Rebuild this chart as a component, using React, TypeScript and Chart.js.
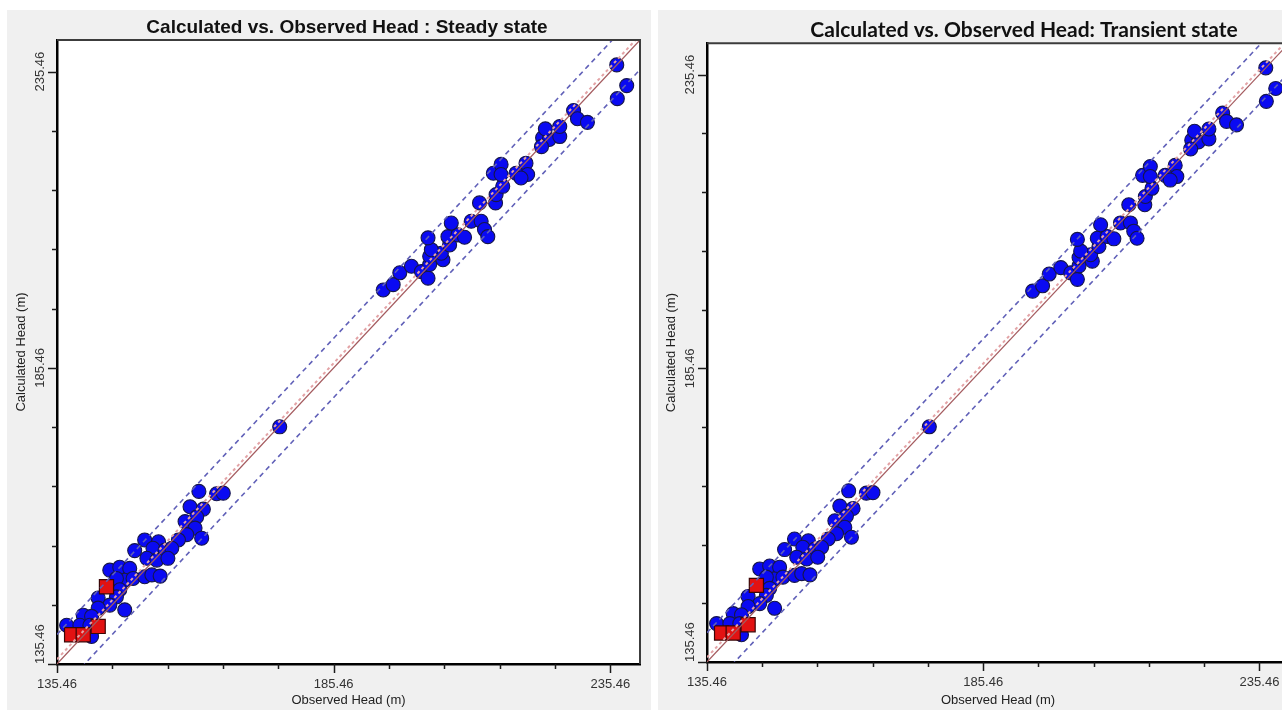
import { useEffect, useRef } from 'react';
import { Chart, registerables } from 'chart.js';

Chart.register(...registerables);

// ---- axis definition ----
const AXIS_MIN = 135.46;
const AXIS_MAX = 240.8;
const TICK_VALUES = [135.46, 145.46, 155.46, 165.46, 175.46, 185.46, 195.46, 205.46, 215.46, 225.46, 235.46];
const LABELED_TICKS = [135.46, 185.46, 235.46];

// ---- reference lines (offsets from the 1:1 line, in m) ----
const INTERVAL_OFFSET = 5;
const CONFIDENCE_OFFSET = 0.8;

// ---- observation wells (same in both panels) ----
const OBSERVED = [
  161.1, 164.3, 165.5, 159.5, 161.9, 160.7, 158.6, 160.4, 161.6, 158.9,
  157.4, 151.3, 153.8, 149.5, 152.8, 155.0, 156.2, 151.7, 153.5, 155.5,
  145.0, 146.8, 148.6, 147.7, 146.2, 149.2, 151.3, 152.6, 154.1, 146.8,
  146.2, 142.9, 145.0, 147.7, 142.9, 140.2, 141.7, 137.2, 139.6, 141.4,
  141.7,
  175.7,
  194.4, 196.2, 197.4, 199.5, 201.3, 202.5, 202.8, 205.2, 202.8, 204.9,
  203.1, 206.4, 202.5, 206.1, 207.9, 209.1, 206.7, 210.3, 212.1, 212.7,
  213.3, 211.8, 214.7, 214.8, 216.0, 214.3, 215.7, 215.7, 218.4, 220.2,
  220.5, 219.3, 223.2, 224.4, 226.3, 223.0, 223.7, 226.3, 228.8, 229.5,
  231.3, 236.6, 238.4, 236.7,
];
const CALCULATED = [
  164.6, 164.2, 164.3, 162.0, 161.6, 160.3, 159.5, 158.4, 156.7, 157.3,
  156.4, 156.4, 156.1, 154.6, 155.0, 154.7, 155.0, 153.3, 153.0, 153.3,
  151.3, 151.8, 151.6, 149.6, 149.9, 149.9, 150.2, 150.5, 150.3, 148.0,
  146.8, 146.6, 145.4, 144.6, 144.9, 143.7, 143.5, 142.0, 142.0, 142.0,
  140.1,
  175.5,
  198.6, 199.5, 201.5, 202.6, 201.7, 200.6, 202.9, 203.7, 204.3, 204.8,
  205.4, 206.2, 207.4, 207.6, 207.9, 207.5, 209.9, 210.2, 210.2, 208.8,
  207.6, 213.3, 213.3, 214.7, 216.1, 218.3, 219.8, 218.1, 218.3, 220.0,
  218.1, 217.5, 224.3, 224.0, 224.5, 222.8, 225.8, 226.2, 228.9, 227.5,
  226.9, 236.6, 233.1, 230.9,
];
const FLAGGED_OBSERVED = [144.4, 142.9, 138.1, 140.2];
const FLAGGED_CALCULATED = [148.5, 141.8, 140.4, 140.4];

const TICK_FONT = '13px "Liberation Sans", Arial, sans-serif';

const framePlugin = {
  id: 'frameTicks',
  beforeDraw(chart: any) {
    const { ctx, chartArea: a } = chart;
    ctx.save();
    ctx.fillStyle = '#ffffff';
    ctx.fillRect(a.left, a.top, a.right - a.left, a.bottom - a.top);
    ctx.restore();
  },
  afterDraw(chart: any) {
    const { ctx, chartArea: a, scales } = chart;
    const xs = scales.x;
    const ys = scales.y;
    ctx.save();
    ctx.strokeStyle = '#3c3c3c';
    ctx.lineWidth = 2;
    ctx.beginPath();
    ctx.moveTo(a.left, a.top);
    ctx.lineTo(a.right, a.top);
    ctx.lineTo(a.right, a.bottom);
    ctx.stroke();

    ctx.strokeStyle = '#1a1a1a';
    ctx.lineWidth = 1.5;
    TICK_VALUES.forEach((v) => {
      const len = LABELED_TICKS.includes(v) ? 9 : 5;
      const px = Math.round(xs.getPixelForValue(v)) + 0.5;
      ctx.beginPath();
      ctx.moveTo(px, a.bottom);
      ctx.lineTo(px, a.bottom + len);
      ctx.stroke();
      const py = Math.round(ys.getPixelForValue(v)) + 0.5;
      ctx.beginPath();
      ctx.moveTo(a.left, py);
      ctx.lineTo(a.left - len, py);
      ctx.stroke();
    });

    ctx.fillStyle = '#333333';
    ctx.font = TICK_FONT;
    ctx.textBaseline = 'middle';
    LABELED_TICKS.forEach((v, i) => {
      const py = ys.getPixelForValue(v);
      ctx.save();
      ctx.translate(a.left - 17, py);
      ctx.rotate(-Math.PI / 2);
      ctx.textAlign = i === 0 ? 'left' : 'center';
      ctx.fillText(v.toFixed(2), 0, 0);
      ctx.restore();
    });
    ctx.restore();
  },
};

type Props = {
  title: string;
  titleFont: any;
  titlePadding: any;
  width: number;
  height: number;
  padRight: number;
  xAxisHeight: number;
};

function HeadChart({ title, titleFont, titlePadding, width, height, padRight, xAxisHeight }: Props) {
  const ref = useRef<HTMLCanvasElement>(null);
  useEffect(() => {
    const pts = OBSERVED.map((x, i) => ({ x, y: CALCULATED[i] }));
    const flagged = FLAGGED_OBSERVED.map((x, i) => ({ x, y: FLAGGED_CALCULATED[i] }));
    const lineAt = (off: number) => [
      { x: AXIS_MIN, y: AXIS_MIN + off },
      { x: AXIS_MAX, y: AXIS_MAX + off },
    ];
    const lineStyle = { showLine: true, pointRadius: 0, fill: false, tension: 0 };
    const chart = new Chart(ref.current as HTMLCanvasElement, {
      type: 'scatter',
      data: {
        datasets: [
          { ...lineStyle, data: lineAt(0), borderColor: '#a45a5e', borderWidth: 1.2 },
          { ...lineStyle, data: lineAt(CONFIDENCE_OFFSET), borderColor: '#e3a3a6', borderWidth: 2, borderDash: [3, 3] },
          { ...lineStyle, data: lineAt(INTERVAL_OFFSET), borderColor: '#6060b8', borderWidth: 1.6, borderDash: [5, 4] },
          { ...lineStyle, data: lineAt(-INTERVAL_OFFSET), borderColor: '#6060b8', borderWidth: 1.6, borderDash: [5, 4] },
          {
            data: flagged,
            pointStyle: 'rect',
            pointRadius: 10,
            backgroundColor: '#e21212',
            borderColor: '#3a0606',
            borderWidth: 1.2,
          },
          {
            data: pts,
            pointStyle: 'circle',
            pointRadius: 7,
            backgroundColor: '#0a0af2',
            borderColor: '#16164a',
            borderWidth: 1.1,
          },
        ] as any,
      },
      options: {
        responsive: false,
        animation: false,
        devicePixelRatio: 1,
        layout: { padding: 0 },
        plugins: {
          legend: { display: false },
          tooltip: { enabled: false },
          title: {
            display: true,
            text: title,
            color: '#111111',
            font: titleFont,
            padding: titlePadding,
          },
        },
        scales: {
          x: {
            type: 'linear',
            min: AXIS_MIN,
            max: AXIS_MAX,
            grid: { display: false, drawTicks: false },
            border: { display: true, color: '#000000', width: 2.5 },
            afterBuildTicks: (s: any) => {
              s.ticks = TICK_VALUES.map((value) => ({ value }));
            },
            afterFit: (s: any) => {
              s.height = xAxisHeight;
            },
            ticks: {
              autoSkip: false,
              maxRotation: 0,
              padding: 13,
              color: '#333333',
              font: { family: '"Liberation Sans", Arial, sans-serif', size: 13 },
              callback: (v: any) => (LABELED_TICKS.includes(Number(v)) ? Number(v).toFixed(2) : ''),
            },
            title: {
              display: true,
              text: 'Observed Head (m)',
              color: '#222222',
              font: { family: '"Liberation Sans", Arial, sans-serif', size: 13 },
              padding: { top: 0, bottom: 2 },
            },
          },
          y: {
            type: 'linear',
            min: AXIS_MIN,
            max: AXIS_MAX,
            grid: { display: false, drawTicks: false },
            border: { display: true, color: '#000000', width: 2.5 },
            afterBuildTicks: (s: any) => {
              s.ticks = TICK_VALUES.map((value) => ({ value }));
            },
            afterFit: (s: any) => {
              s.width = 50;
            },
            ticks: { display: false },
            title: {
              display: true,
              text: 'Calculated Head (m)',
              color: '#222222',
              font: { family: '"Liberation Sans", Arial, sans-serif', size: 13 },
              padding: { top: 7, bottom: 0 },
            },
          },
          spacer: {
            type: 'linear',
            position: 'right',
            display: true,
            grid: { display: false, drawTicks: false },
            border: { display: false },
            ticks: { display: false },
            afterFit: (s: any) => {
              s.width = padRight;
            },
          },
        },
      },
      plugins: [framePlugin],
    });
    return () => chart.destroy();
  }, []);
  return <canvas ref={ref} width={width} height={height} style={{ width, height, display: 'block' }} />;
}

export default function App() {
  return (
    <div style={{ position: 'fixed', left: 0, top: 0, width: 1282, height: 710, overflow: 'hidden', background: '#ffffff' }}>
      <div style={{ position: 'absolute', left: 7, top: 10, width: 644, height: 700, background: '#f0f0f0' }} />
      <div style={{ position: 'absolute', left: 658, top: 10, width: 624, height: 700, background: '#f0f0f0' }} />
      <div style={{ position: 'absolute', left: 7, top: 10 }}>
        <HeadChart
          title="Calculated vs. Observed Head : Steady state"
          titleFont={{ family: '"Liberation Sans", Arial, sans-serif', size: 19, weight: 'bold' }}
          titlePadding={{ top: 6, bottom: 1.2 }}
          width={680}
          height={700}
          padRight={47}
          xAxisHeight={46}
        />
      </div>
      <div style={{ position: 'absolute', left: 657, top: 10 }}>
        <HeadChart
          title="Calculated vs. Observed Head: Transient state"
          titleFont={{ family: 'Lato, "Open Sans", sans-serif', size: 21, weight: 'bold' }}
          titlePadding={{ top: 8, bottom: 0 }}
          width={734}
          height={700}
          padRight={102}
          xAxisHeight={48}
        />
      </div>
    </div>
  );
}
